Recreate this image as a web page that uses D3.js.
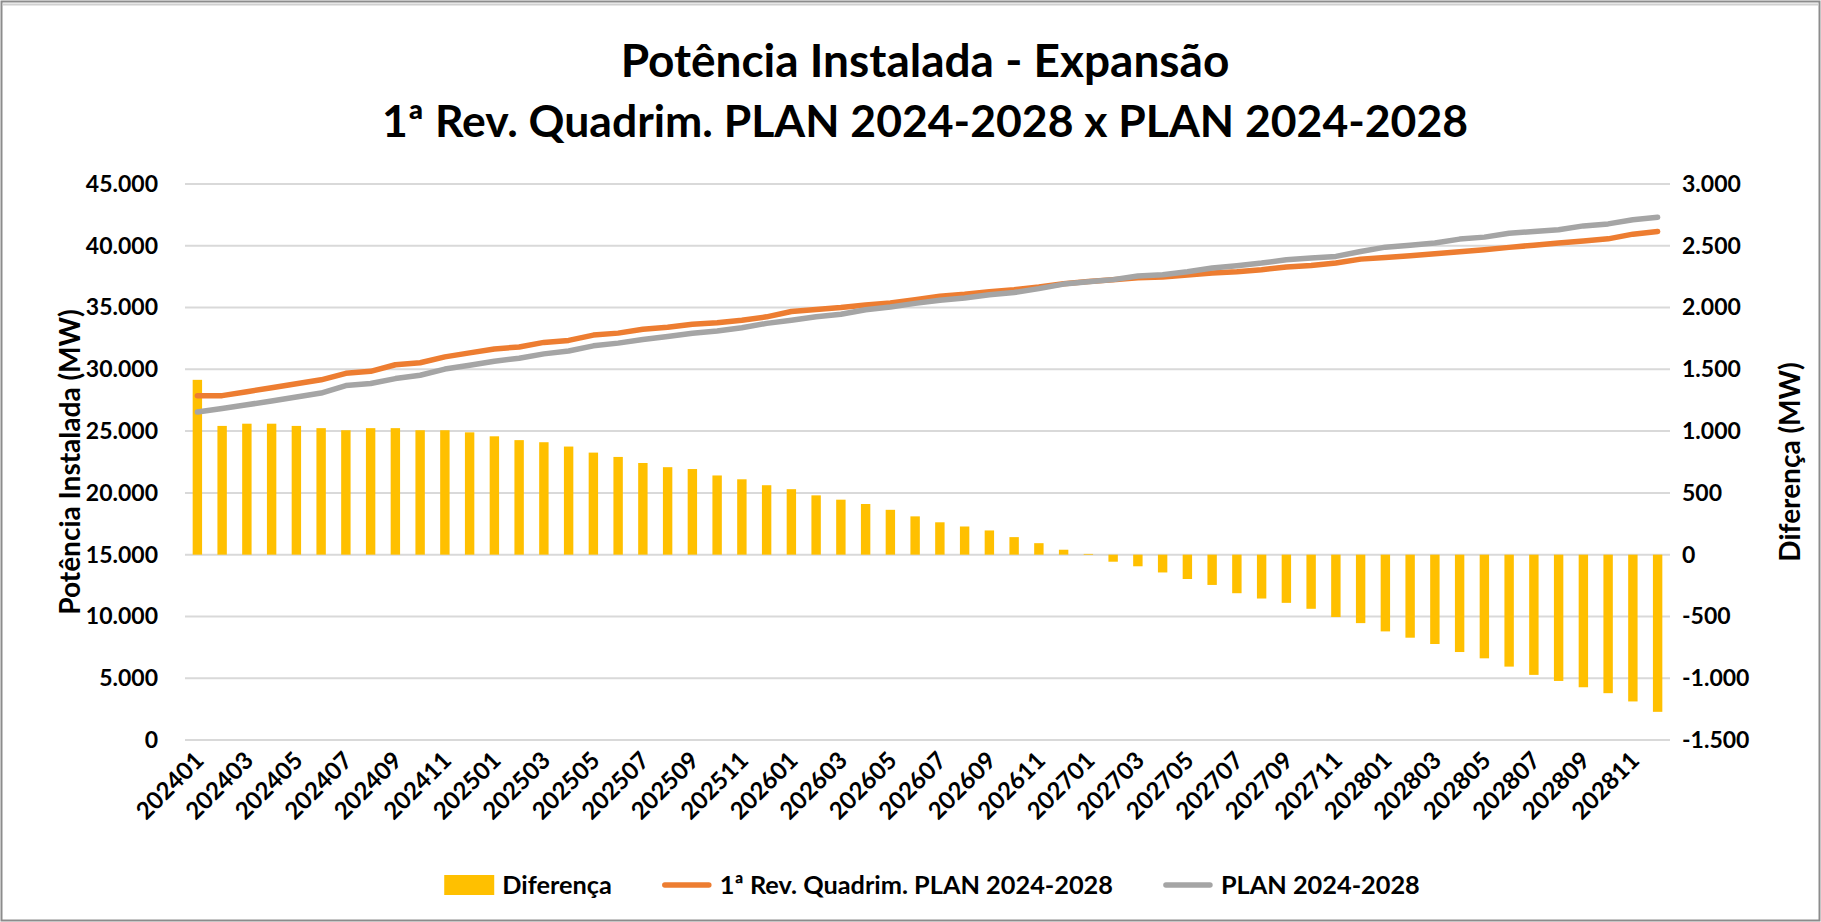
<!DOCTYPE html>
<html>
<head>
<meta charset="utf-8">
<script src="https://cdn.jsdelivr.net/npm/d3@7"></script>
<style>
  html, body { margin: 0; padding: 0; background: #fff; }
  svg text { font-family: Lato, "Open Sans", "DejaVu Sans", sans-serif; font-weight: 700; fill: #000; }
</style>
</head>
<body>
<svg id="chart" width="1821" height="922"></svg>
<script>
// Monthly categories (YYYYMM)
const months = [
  "202401","202402","202403","202404","202405","202406","202407","202408","202409","202410","202411","202412",
  "202501","202502","202503","202504","202505","202506","202507","202508","202509","202510","202511","202512",
  "202601","202602","202603","202604","202605","202606","202607","202608","202609","202610","202611","202612",
  "202701","202702","202703","202704","202705","202706","202707","202708","202709","202710","202711","202712",
  "202801","202802","202803","202804","202805","202806","202807","202808","202809","202810","202811","202812"
];

// Difference between the two plans (MW) — right axis
const diferenca = [
  1415, 1042, 1060, 1060, 1042, 1024, 1007, 1024, 1024, 1007, 1007, 990,
  958, 927, 910, 875, 826, 791, 742, 708, 693, 641, 610, 562,
  530, 480, 445, 410, 363, 310, 262, 228, 196, 142, 93, 40,
  6, -57, -94, -144, -197, -245, -312, -355, -390, -438, -505, -554,
  -621, -672, -723, -788, -839, -906, -973, -1022, -1073, -1121, -1188, -1272
];

// Installed capacity, 1st four-month revision (MW) — left axis
const revQuadrim = [
  27870, 27870, 28190, 28510, 28830, 29150, 29680, 29840, 30370, 30530, 31010, 31330,
  31650, 31810, 32180, 32340, 32770, 32930, 33240, 33400, 33650, 33770, 33980, 34250,
  34680, 34840, 35000, 35210, 35370, 35640, 35910, 36070, 36280, 36440, 36660, 36930,
  37110, 37250, 37410, 37480, 37640, 37800, 37900, 38060, 38280, 38410, 38600, 38920,
  39060, 39190, 39350, 39520, 39680, 39870, 40050, 40220, 40380, 40560, 40940, 41160
];

// Installed capacity, original plan (MW) — left axis
const plan = [
  26540, 26830, 27130, 27440, 27760, 28080, 28690, 28850, 29250, 29520, 30020, 30330,
  30660, 30900, 31250, 31480, 31900, 32120, 32420, 32660, 32920, 33100, 33370, 33720,
  33980, 34250, 34460, 34820, 35040, 35340, 35590, 35780, 36040, 36220, 36530, 36900,
  37090, 37260, 37560, 37660, 37900, 38200, 38390, 38600, 38870, 39010, 39140, 39540,
  39890, 40050, 40220, 40540, 40700, 41020, 41160, 41290, 41610, 41770, 42100, 42310
];

const leftTicks = [0, 5000, 10000, 15000, 20000, 25000, 30000, 35000, 40000, 45000];
const rightTicks = [-1500, -1000, -500, 0, 500, 1000, 1500, 2000, 2500, 3000];

const titleLines = ["Potência Instalada - Expansão", "1ª Rev. Quadrim. PLAN 2024-2028 x PLAN 2024-2028"];
const leftAxisTitle = "Potência Instalada (MW)";
const rightAxisTitle = "Diferença (MW)";
const seriesNames = ["Diferença", "1ª Rev. Quadrim. PLAN 2024-2028", "PLAN 2024-2028"];
const seriesColors = ["#FFC000", "#ED7D31", "#A5A5A5"];

// Layout
const W = 1821, H = 922;
const plot = { left: 185, right: 1670, top: 184, bottom: 740 };

const locale = d3.formatLocale({ decimal: ",", thousands: ".", grouping: [3], currency: ["R$", ""], minus: "-" });
const fmt = locale.format(",.0f");

const svg = d3.select("#chart");

// chart frame
svg.append("rect").attr("x", 1.5).attr("y", 1.5).attr("width", W - 3).attr("height", H - 3)
  .attr("fill", "#fff").attr("stroke", "#8c8c8c").attr("stroke-width", 2);
svg.append("line").attr("x1", 3).attr("x2", W - 3).attr("y1", 4.5).attr("y2", 4.5)
  .attr("stroke", "#d0d0d0").attr("stroke-width", 2);

const x = d3.scaleBand().domain(months).range([plot.left, plot.right]).padding(0);
const cx = d => x(d) + x.bandwidth() / 2;
const yL = d3.scaleLinear().domain([0, 45000]).range([plot.bottom, plot.top]);
const yR = d3.scaleLinear().domain([-1500, 3000]).range([plot.bottom, plot.top]);

// Title
svg.append("g").selectAll("text").data(titleLines).join("text")
  .attr("x", 925).attr("y", (d, i) => 77 + i * 60)
  .attr("text-anchor", "middle").style("font-size", d => d === titleLines[0] ? "46px" : "44.5px").text(d => d);

// Gridlines
svg.append("g").selectAll("line").data(leftTicks).join("line")
  .attr("x1", plot.left).attr("x2", plot.right)
  .attr("y1", d => yL(d)).attr("y2", d => yL(d))
  .attr("stroke", "#D9D9D9").attr("stroke-width", 2);

// Left axis labels
const axL = svg.append("g").attr("transform", `translate(${plot.left},0)`)
  .call(d3.axisLeft(yL).tickValues(leftTicks).tickFormat(fmt).tickSize(0).tickPadding(27));
axL.select(".domain").remove();
axL.selectAll("text").style("font-size", "23px").style("font-family", null).attr("fill", "#000");

// Right axis labels
const axR = svg.append("g").attr("transform", `translate(${plot.right},0)`)
  .call(d3.axisRight(yR).tickValues(rightTicks).tickFormat(fmt).tickSize(0).tickPadding(12));
axR.select(".domain").remove();
axR.selectAll("text").style("font-size", "23px").style("font-family", null).attr("fill", "#000");

// Category axis
const axB = svg.append("g").attr("transform", `translate(0,${plot.bottom})`)
  .call(d3.axisBottom(x).tickValues(months.filter((d, i) => i % 2 === 0)).tickSize(0));
axB.select(".domain").remove();
axB.selectAll("text")
  .style("font-size", "24px").style("font-family", null).attr("fill", "#000")
  .attr("x", 0).attr("y", 0).attr("dy", "0.35em")
  .attr("text-anchor", "end")
  .attr("transform", "translate(2,16) rotate(-45)");

// Bars
const barW = x.bandwidth() * 0.38;
svg.append("g").selectAll("rect").data(months).join("rect")
  .attr("x", d => cx(d) - barW / 2)
  .attr("width", barW)
  .attr("y", (d, i) => Math.min(yR(0), yR(diferenca[i])))
  .attr("height", (d, i) => Math.abs(yR(diferenca[i]) - yR(0)))
  .attr("fill", seriesColors[0]);

// Lines
const line = d3.line().x(d => cx(d.m)).y(d => yL(d.v));
[revQuadrim, plan].forEach((vals, k) => {
  svg.append("path")
    .datum(months.map((m, i) => ({ m, v: vals[i] })))
    .attr("d", line)
    .attr("fill", "none")
    .attr("stroke", seriesColors[k + 1])
    .attr("stroke-width", 5.5)
    .attr("stroke-linecap", "round")
    .attr("stroke-linejoin", "round");
});

// Axis titles
svg.append("text")
  .attr("transform", `translate(70,${(plot.top + plot.bottom) / 2}) rotate(-90)`)
  .attr("text-anchor", "middle").attr("dy", "0.35em")
  .style("font-size", "28px").text(leftAxisTitle);
svg.append("text")
  .attr("transform", `translate(1790,${(plot.top + plot.bottom) / 2}) rotate(-90)`)
  .attr("text-anchor", "middle").attr("dy", "0.35em")
  .style("font-size", "28px").text(rightAxisTitle);

// Legend
const legY = 885, swW = 50, swGap = 8, itemGap = 50;
const leg = svg.append("g");
const items = seriesNames.map((name, i) => {
  const g = leg.append("g");
  if (i === 0) {
    g.append("rect").attr("x", 0).attr("y", legY - 10).attr("width", swW).attr("height", 20).attr("fill", seriesColors[i]);
  } else {
    g.append("line").attr("x1", 3).attr("x2", swW - 3).attr("y1", legY).attr("y2", legY)
      .attr("stroke", seriesColors[i]).attr("stroke-width", 5.5).attr("stroke-linecap", "round");
  }
  const t = g.append("text").attr("x", swW + swGap).attr("y", legY).attr("dy", "0.35em")
    .style("font-size", "25.3px").text(name);
  return { g, w: swW + swGap + t.node().getComputedTextLength() };
});
const total = d3.sum(items, d => d.w) + itemGap * (items.length - 1);
let pos = 932 - total / 2;
items.forEach(it => { it.g.attr("transform", `translate(${pos},0)`); pos += it.w + itemGap; });
</script>
</body>
</html>
